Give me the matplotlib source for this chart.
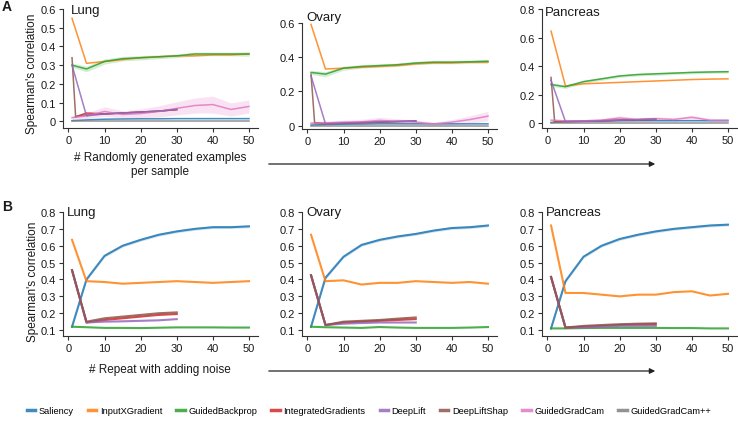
import matplotlib
matplotlib.use("Agg")
import matplotlib.pyplot as plt
from matplotlib.patches import FancyArrowPatch
from matplotlib.lines import Line2D
from matplotlib.ticker import FuncFormatter

plt.rcParams['font.family'] = ['Liberation Sans', 'DejaVu Sans']

# ---------------- data ----------------
methods = ["Saliency", "InputXGradient", "GuidedBackprop", "IntegratedGradients",
           "DeepLift", "DeepLiftShap", "GuidedGradCam", "GuidedGradCam++"]
colors = ["#1f77b4", "#ff7f0e", "#2ca02c", "#d62728",
          "#9467bd", "#8c564b", "#e377c2", "#7f7f7f"]

x_full = [1, 5, 10, 15, 20, 25, 30, 35, 40, 45, 50]
x_short = [1, 5, 10, 15, 20, 25, 30]
x_a_ig = [2, 5, 10, 15, 20, 25, 30]
x_a_dls = [1, 2, 5, 10, 15, 20, 25, 30]

# Row A - Lung
lungA_sal = [0.004, 0.008, 0.012, 0.013, 0.014, 0.014, 0.015, 0.015, 0.015, 0.015, 0.015]
lungA_ixg = [0.55, 0.31, 0.32, 0.33, 0.34, 0.345, 0.35, 0.35, 0.355, 0.355, 0.36]
lungA_gbp = [0.30, 0.28, 0.32, 0.335, 0.34, 0.345, 0.35, 0.36, 0.36, 0.36, 0.36]
lungA_gbp_err = [0.012, 0.015, 0.014, 0.012, 0.012, 0.01, 0.01, 0.01, 0.01, 0.01, 0.012]
lungA_ig = [0.025, 0.045, 0.04, 0.045, 0.05, 0.055, 0.063]
lungA_dl = [0.30, 0.03, 0.04, 0.045, 0.05, 0.055, 0.065]
lungA_dls = [0.34, 0.025, 0.035, 0.04, 0.045, 0.05, 0.055, 0.063]
lungA_ggc = [0.02, 0.03, 0.053, 0.037, 0.042, 0.053, 0.07, 0.085, 0.09, 0.064, 0.08]
lungA_ggc_err = [0.01, 0.015, 0.025, 0.02, 0.025, 0.03, 0.035, 0.04, 0.045, 0.035, 0.035]
lungA_ggcpp = [0.0, 0.0, 0.0, 0.0, 0.0, 0.0, 0.0, 0.0, 0.0, 0.0, 0.0]

# Row A - Ovary
ovaryA_sal = [0.003, 0.006, 0.008, 0.009, 0.01, 0.01, 0.01, 0.01, 0.01, 0.01, 0.01]
ovaryA_ixg = [0.59, 0.33, 0.335, 0.34, 0.345, 0.35, 0.36, 0.365, 0.365, 0.37, 0.37]
ovaryA_gbp = [0.31, 0.30, 0.335, 0.345, 0.35, 0.355, 0.365, 0.37, 0.37, 0.372, 0.375]
ovaryA_gbp_err = [0.012, 0.015, 0.012, 0.01, 0.01, 0.01, 0.01, 0.01, 0.01, 0.01, 0.012]
ovaryA_ig = [0.015, 0.012, 0.014, 0.017, 0.02, 0.023, 0.026]
ovaryA_dl = [0.29, 0.01, 0.015, 0.018, 0.022, 0.025, 0.028]
ovaryA_dls = [0.30, 0.015, 0.012, 0.014, 0.017, 0.02, 0.023, 0.026]
ovaryA_ggc = [0.014, 0.015, 0.02, 0.022, 0.03, 0.025, 0.02, 0.01, 0.02, 0.035, 0.055]
ovaryA_ggc_err = [0.01, 0.012, 0.012, 0.015, 0.018, 0.015, 0.012, 0.01, 0.015, 0.022, 0.028]
ovaryA_ggcpp = [0.0, 0.0, 0.0, 0.0, 0.0, 0.0, 0.0, 0.0, 0.0, 0.0, 0.0]

# Row A - Pancreas
pancA_sal = [0.004, 0.01, 0.012, 0.014, 0.015, 0.016, 0.016, 0.016, 0.016, 0.016, 0.016]
pancA_ixg = [0.645, 0.26, 0.275, 0.28, 0.285, 0.29, 0.295, 0.30, 0.305, 0.308, 0.31]
pancA_gbp = [0.27, 0.255, 0.29, 0.31, 0.33, 0.34, 0.345, 0.35, 0.355, 0.358, 0.36]
pancA_gbp_err = [0.012, 0.012, 0.012, 0.01, 0.01, 0.01, 0.01, 0.01, 0.01, 0.01, 0.01]
pancA_ig = [0.01, 0.01, 0.013, 0.016, 0.02, 0.023, 0.026]
pancA_dl = [0.30, 0.01, 0.012, 0.016, 0.02, 0.024, 0.028]
pancA_dls = [0.32, 0.01, 0.01, 0.013, 0.016, 0.02, 0.023, 0.026]
pancA_ggc = [0.02, 0.015, 0.015, 0.02, 0.035, 0.025, 0.03, 0.025, 0.04, 0.02, 0.02]
pancA_ggc_err = [0.008, 0.008, 0.01, 0.012, 0.015, 0.012, 0.015, 0.012, 0.015, 0.01, 0.01]
pancA_ggcpp = [0.0, 0.0, 0.0, 0.0, 0.0, 0.0, 0.0, 0.0, 0.0, 0.0, 0.0]

# Row B - Lung
lungB_sal = [0.12, 0.40, 0.54, 0.60, 0.635, 0.665, 0.685, 0.70, 0.71, 0.71, 0.715]
lungB_ixg = [0.635, 0.39, 0.385, 0.375, 0.38, 0.385, 0.39, 0.385, 0.38, 0.385, 0.39]
lungB_gbp = [0.12, 0.117, 0.113, 0.113, 0.112, 0.114, 0.116, 0.116, 0.116, 0.115, 0.115]
lungB_ig = [0.455, 0.145, 0.16, 0.17, 0.18, 0.19, 0.195]
lungB_dl = [0.455, 0.145, 0.15, 0.152, 0.155, 0.158, 0.165]
lungB_dls = [0.455, 0.15, 0.17, 0.18, 0.19, 0.20, 0.205]

# Row B - Ovary
ovaryB_sal = [0.12, 0.41, 0.535, 0.605, 0.635, 0.655, 0.67, 0.69, 0.705, 0.71, 0.72]
ovaryB_ixg = [0.665, 0.39, 0.395, 0.37, 0.38, 0.38, 0.39, 0.385, 0.38, 0.385, 0.375]
ovaryB_gbp = [0.12, 0.117, 0.115, 0.113, 0.118, 0.115, 0.113, 0.113, 0.113, 0.115, 0.118]
ovaryB_ig = [0.425, 0.13, 0.145, 0.15, 0.155, 0.16, 0.165]
ovaryB_dl = [0.425, 0.13, 0.138, 0.142, 0.145, 0.145, 0.145]
ovaryB_dls = [0.425, 0.13, 0.15, 0.155, 0.16, 0.168, 0.175]

# Row B - Pancreas
pancB_sal = [0.11, 0.39, 0.535, 0.60, 0.64, 0.665, 0.685, 0.70, 0.71, 0.72, 0.725]
pancB_ixg = [0.72, 0.32, 0.32, 0.31, 0.30, 0.31, 0.31, 0.325, 0.33, 0.305, 0.315]
pancB_gbp = [0.11, 0.11, 0.112, 0.113, 0.113, 0.113, 0.113, 0.112, 0.112, 0.11, 0.11]
pancB_ig = [0.415, 0.115, 0.12, 0.125, 0.13, 0.133, 0.135]
pancB_dl = [0.415, 0.115, 0.115, 0.12, 0.125, 0.125, 0.125]
pancB_dls = [0.415, 0.115, 0.125, 0.13, 0.135, 0.138, 0.14]

sal_err_B = 0.008

# ---------------- figure ----------------
W, H = 738, 427
fig = plt.figure(figsize=(W / 100, H / 100), dpi=100)
TXT = "#1a1a1a"


def rect(left, top, right, bottom):
    return [left / W, 1 - bottom / H, (right - left) / W, (bottom - top) / H]


def style(ax, ylim, yticks, spine_top=None):
    ax.set_xlim(-1.5, 52.5)
    ax.set_ylim(*ylim)
    ax.set_xticks([0, 10, 20, 30, 40, 50])
    ax.set_yticks(yticks)
    ax.yaxis.set_major_formatter(FuncFormatter(lambda v, p: "0" if abs(v) < 1e-9 else f"{v:g}"))
    for s in ["top", "right"]:
        ax.spines[s].set_visible(False)
    for s in ["left", "bottom"]:
        ax.spines[s].set_linewidth(0.8)
        ax.spines[s].set_color("#333333")
    if spine_top is not None:
        ax.spines["left"].set_bounds(ylim[0], spine_top)
    ax.tick_params(direction="out", length=3, width=0.8, color="#333333",
                   labelsize=8, labelcolor=TXT, pad=2)
    ax.patch.set_visible(False)


LW_A = 1.1
LW_B = 1.5
AL = 0.85


def plot_rowA(ax, sal, ixg, gbp, gbp_err, ig, dl, dls, ggc, ggc_err, ggcpp):
    ax.plot(x_full, sal, color=colors[0], lw=LW_A, alpha=AL, zorder=2)
    ax.plot(x_full, ixg, color=colors[1], lw=LW_A, alpha=AL, zorder=2)
    lo = [v - e for v, e in zip(gbp, gbp_err)]
    hi = [v + e for v, e in zip(gbp, gbp_err)]
    ax.fill_between(x_full, lo, hi, color=colors[2], alpha=0.2, lw=0)
    ax.plot(x_full, gbp, color=colors[2], lw=LW_A, alpha=AL, zorder=2)
    ax.plot(x_a_ig, ig, color=colors[3], lw=LW_A, alpha=AL, zorder=2)
    ax.plot(x_a_dls, dls, color=colors[5], lw=LW_A, alpha=AL, zorder=2)
    ax.plot(x_short, dl, color=colors[4], lw=LW_A, alpha=AL, zorder=3)
    lo = [v - e for v, e in zip(ggc, ggc_err)]
    hi = [v + e for v, e in zip(ggc, ggc_err)]
    ax.fill_between(x_full, lo, hi, color=colors[6], alpha=0.2, lw=0)
    ax.plot(x_full, ggc, color=colors[6], lw=LW_A, alpha=AL, zorder=2)
    ax.plot(x_full, ggcpp, color=colors[7], lw=LW_A, alpha=AL, zorder=2)


def plot_rowB(ax, sal, ixg, gbp, ig, dl, dls):
    lo = [v - sal_err_B for v in sal]
    hi = [v + sal_err_B for v in sal]
    ax.fill_between(x_full, lo, hi, color=colors[0], alpha=0.2, lw=0)
    ax.plot(x_full, sal, color=colors[0], lw=LW_B, alpha=AL)
    ax.plot(x_full, ixg, color=colors[1], lw=LW_B, alpha=AL)
    ax.plot(x_full, gbp, color=colors[2], lw=LW_B, alpha=AL)
    ax.plot(x_short, ig, color=colors[3], lw=LW_B, alpha=AL)
    ax.plot(x_short, dl, color=colors[4], lw=LW_B, alpha=AL)
    ax.plot(x_short, dls, color=colors[5], lw=LW_B, alpha=AL)


lefts = [63, 302, 542]
AXW = 195

# Row A
axA1 = fig.add_axes(rect(lefts[0], 10, lefts[0] + AXW, 129))
plot_rowA(axA1, lungA_sal, lungA_ixg, lungA_gbp, lungA_gbp_err, lungA_ig, lungA_dl,
          lungA_dls, lungA_ggc, lungA_ggc_err, lungA_ggcpp)
style(axA1, (-0.035, 0.6), [0, 0.1, 0.2, 0.3, 0.4, 0.5, 0.6])

axA2 = fig.add_axes(rect(lefts[1], 10, lefts[1] + AXW, 130))
plot_rowA(axA2, ovaryA_sal, ovaryA_ixg, ovaryA_gbp, ovaryA_gbp_err, ovaryA_ig, ovaryA_dl,
          ovaryA_dls, ovaryA_ggc, ovaryA_ggc_err, ovaryA_ggcpp)
style(axA2, (-0.02, 0.68), [0, 0.2, 0.4, 0.6], spine_top=0.6)

axA3 = fig.add_axes(rect(lefts[2], 10, lefts[2] + AXW, 129))
plot_rowA(axA3, pancA_sal, pancA_ixg, pancA_gbp, pancA_gbp_err, pancA_ig, pancA_dl,
          pancA_dls, pancA_ggc, pancA_ggc_err, pancA_ggcpp)
style(axA3, (-0.035, 0.8), [0, 0.2, 0.4, 0.6, 0.8])

# Row B
yB = [0.1, 0.2, 0.3, 0.4, 0.5, 0.6, 0.7, 0.8]
axB1 = fig.add_axes(rect(lefts[0], 213, lefts[0] + AXW, 337))
plot_rowB(axB1, lungB_sal, lungB_ixg, lungB_gbp, lungB_ig, lungB_dl, lungB_dls)
style(axB1, (0.065, 0.8), yB)

axB2 = fig.add_axes(rect(lefts[1], 213, lefts[1] + AXW, 337))
plot_rowB(axB2, ovaryB_sal, ovaryB_ixg, ovaryB_gbp, ovaryB_ig, ovaryB_dl, ovaryB_dls)
style(axB2, (0.065, 0.8), yB)

axB3 = fig.add_axes(rect(lefts[2], 213, lefts[2] + AXW, 337))
plot_rowB(axB3, pancB_sal, pancB_ixg, pancB_gbp, pancB_ig, pancB_dl, pancB_dls)
style(axB3, (0.065, 0.8), yB)

# Titles
def ftext(x, y, s, **kw):
    fig.text(x / W, 1 - y / H, s, color=TXT, **kw)

ftext(71, 11, "Lung", fontsize=9.5, va="center", ha="left")
ftext(306, 18, "Ovary", fontsize=9.5, va="center", ha="left")
ftext(545, 13, "Pancreas", fontsize=9.5, va="center", ha="left")
ftext(67, 213, "Lung", fontsize=9.5, va="center", ha="left")
ftext(306, 213, "Ovary", fontsize=9.5, va="center", ha="left")
ftext(546, 213, "Pancreas", fontsize=9.5, va="center", ha="left")

# Panel letters
ftext(7, 7, "A", fontsize=10, fontweight="bold", va="center", ha="center")
ftext(7, 207, "B", fontsize=10, fontweight="bold", va="center", ha="center")

# Y labels
ftext(32, 74, "Spearman's correlation", fontsize=8.5, rotation=90, va="center", ha="center")
ftext(33, 282, "Spearman's correlation", fontsize=8.5, rotation=90, va="center", ha="center")

# X labels
ftext(160, 165, "# Randomly generated examples\nper sample", fontsize=8.5,
      va="center", ha="center", linespacing=1.25)
ftext(160, 370, "# Repeat with adding noise", fontsize=8.5, va="center", ha="center")

# Arrows
for yy in (165, 372):
    arr = FancyArrowPatch((266 / W, 1 - yy / H), (658 / W, 1 - yy / H),
                          transform=fig.transFigure, arrowstyle="-|>",
                          mutation_scale=8, lw=0.9, color="#222222")
    fig.add_artist(arr)

# Legend
handles = [Line2D([0], [0], color=c, lw=2.5, alpha=AL) for c in colors]
fig.legend(handles, methods, loc="center", bbox_to_anchor=(369 / W, 1 - 412 / H),
           ncol=8, frameon=False, fontsize=6.7, handlelength=0.9, handletextpad=0.4,
           columnspacing=1.5, borderaxespad=0, borderpad=0)

fig.savefig("out.png", dpi=100)
